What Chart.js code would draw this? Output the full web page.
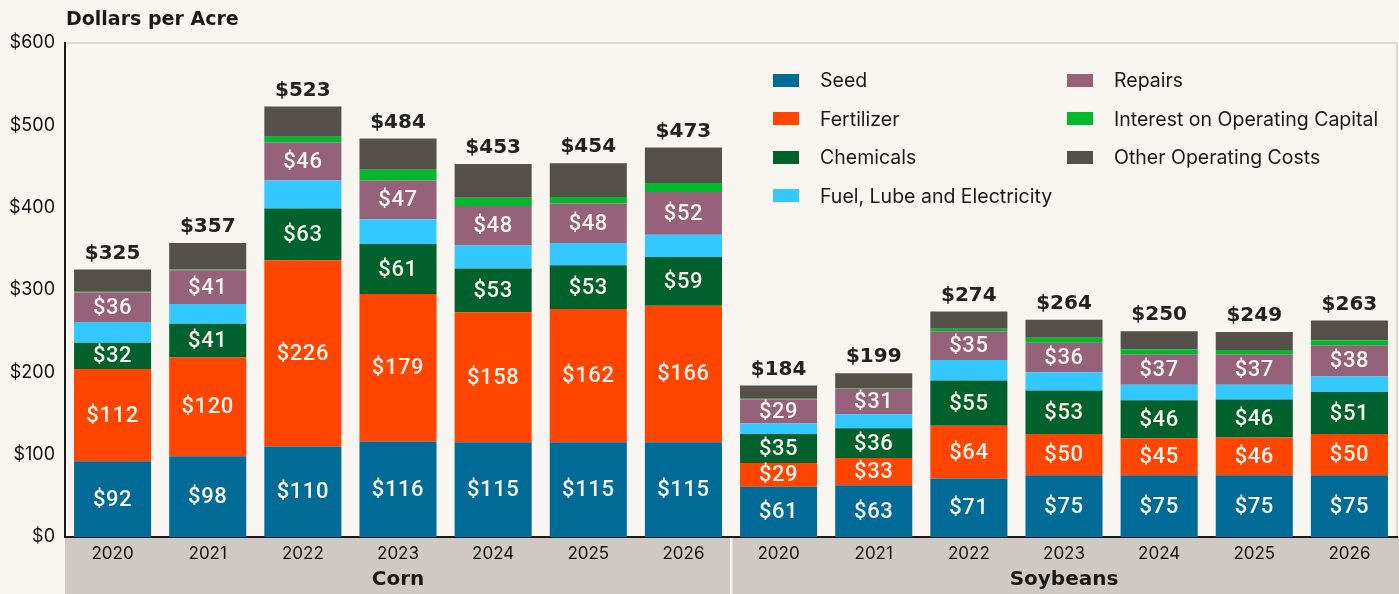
<!DOCTYPE html>
<html>
<head>
<meta charset="utf-8">
<script src="https://cdn.jsdelivr.net/npm/chart.js@4.4.1/dist/chart.umd.min.js"></script>
<style>
  html, body { margin: 0; padding: 0; background: #f9f5f0; }
  #wrap { position: relative; width: 1399px; height: 594px; }
  #legend {
    position: absolute; left: 773px; top: 61px;
    font-family: Inter, "Liberation Sans", sans-serif; font-size: 19.5px; color: #1a1a1a;
    display: grid; grid-auto-flow: column;
    grid-template-columns: 294px auto; grid-template-rows: repeat(4, 38.5px);
  }
  #legend div { display: flex; align-items: center; }
  #legend span.sw { width: 26px; height: 13px; margin-right: 21px; flex: none; }
</style>
</head>
<body>
<div id="wrap">
  <canvas id="costChart" width="1399" height="594"></canvas>
  <div id="legend"></div>
</div>
<script>
// Données (dollars par acre)
const years = ["2020", "2021", "2022", "2023", "2024", "2025", "2026"];
const groups = ["Corn", "Soybeans"];
const labels = years.concat(years);

const seed = [92, 98, 110, 116, 115, 115, 115, 61, 63, 71, 75, 75, 75, 75];
const fertilizer = [112, 120, 226, 179, 158, 162, 166, 29, 33, 64, 50, 45, 46, 50];
const chemicals = [32, 41, 63, 61, 53, 53, 59, 35, 36, 55, 53, 46, 46, 51];
const fuel = [25, 24, 34, 30, 28, 27, 27, 13, 17, 25, 22, 19, 18, 19];
const repairs = [36, 41, 46, 47, 48, 48, 52, 29, 31, 35, 36, 37, 37, 38];
const interest = [1, 1, 7, 13, 10, 8, 11, 1, 1, 3, 6, 6, 5, 6];
const other = [27, 32, 37, 38, 41, 41, 43, 16, 18, 21, 22, 22, 22, 24];
const totals = [325, 357, 523, 484, 453, 454, 473, 184, 199, 274, 264, 250, 249, 263];

const yTicks = [0, 100, 200, 300, 400, 500, 600];

const FONT = "Inter, 'Liberation Sans', sans-serif";
const WIDE = "'DejaVu Sans', sans-serif";

const series = [
  { label: "Seed", data: seed, color: "#006b96", showValue: true },
  { label: "Fertilizer", data: fertilizer, color: "#ff4500", showValue: true },
  { label: "Chemicals", data: chemicals, color: "#00612c", showValue: true },
  { label: "Fuel, Lube and Electricity", data: fuel, color: "#33c8ff", showValue: false },
  { label: "Repairs", data: repairs, color: "#966279", showValue: true },
  { label: "Interest on Operating Capital", data: interest, color: "#00b82e", showValue: false },
  { label: "Other Operating Costs", data: other, color: "#56504b", showValue: false },
];

// Légende HTML
const legendEl = document.getElementById("legend");
series.forEach((s) => {
  const d = document.createElement("div");
  d.innerHTML = `<span class="sw" style="background:${s.color}"></span>${s.label}`;
  legendEl.appendChild(d);
});

const decor = {
  id: "decor",
  beforeDraw(chart) {
    const { ctx, chartArea: a } = chart;
    const x = chart.scales.x;
    const mid = (x.getPixelForValue(6) + x.getPixelForValue(7)) / 2;
    ctx.save();
    // bande grise sous l'axe
    ctx.fillStyle = "#d0c8c2";
    ctx.fillRect(a.left, a.bottom, chart.width - a.left, chart.height - a.bottom);
    ctx.fillStyle = "#f4efe9";
    ctx.fillRect(mid - 1, a.bottom, 2.5, chart.height - a.bottom);
    // cadre haut / droite
    ctx.strokeStyle = "#d6cfc9";
    ctx.lineWidth = 1.5;
    ctx.beginPath();
    ctx.moveTo(a.left, a.top);
    ctx.lineTo(a.right, a.top);
    ctx.lineTo(a.right, a.bottom);
    ctx.stroke();
    // titre
    ctx.fillStyle = "#1a1a1a";
    ctx.textBaseline = "middle";
    ctx.textAlign = "left";
    ctx.font = "bold 19px " + WIDE;
    ctx.fillText("Dollars per Acre", 66, 20);
    // groupes
    ctx.font = "bold 20px " + WIDE;
    ctx.textAlign = "center";
    const c1 = (x.getPixelForValue(0) + x.getPixelForValue(6)) / 2;
    const c2 = (x.getPixelForValue(7) + x.getPixelForValue(13)) / 2;
    ctx.fillText(groups[0], c1, 580);
    ctx.fillText(groups[1], c2, 580);
    ctx.restore();
  },
  afterDatasetsDraw(chart) {
    const { ctx } = chart;
    ctx.save();
    ctx.textAlign = "center";
    ctx.textBaseline = "middle";
    ctx.fillStyle = "#f7f2ec";
    ctx.font = "500 22px Roboto, sans-serif";
    ctx.letterSpacing = "0.6px";
    chart.data.datasets.forEach((ds, di) => {
      if (!series[di].showValue) return;
      chart.getDatasetMeta(di).data.forEach((bar, i) => {
        ctx.fillText("$" + ds.data[i], bar.x, (bar.y + bar.base) / 2 + 1);
      });
    });
    // totaux
    ctx.letterSpacing = "0px";
    ctx.fillStyle = "#222";
    ctx.font = "bold 20px " + WIDE;
    const last = chart.getDatasetMeta(chart.data.datasets.length - 1);
    last.data.forEach((bar, i) => {
      ctx.fillText("$" + totals[i], bar.x, bar.y - 16);
    });
    ctx.restore();
  },
};

new Chart(document.getElementById("costChart"), {
  type: "bar",
  data: {
    labels: labels,
    datasets: series.map((s) => ({
      label: s.label,
      data: s.data,
      backgroundColor: s.color,
      borderWidth: 0,
      categoryPercentage: 1,
      barPercentage: 0.81,
    })),
  },
  options: {
    responsive: false,
    animation: false,
    layout: { padding: { top: 43, right: 2, left: 0, bottom: 0 } },
    plugins: { legend: { display: false }, tooltip: { enabled: false } },
    scales: {
      x: {
        stacked: true,
        grid: { display: false, drawTicks: false },
        border: { display: true, color: "#1a1a1a", width: 2 },
        ticks: { color: "#111", font: { family: FONT, size: 17 }, padding: 7, maxRotation: 0 },
        afterFit: (s) => { s.height = 57; },
      },
      y: {
        stacked: true,
        min: 0,
        max: 600,
        afterBuildTicks: (s) => { s.ticks = yTicks.map((v) => ({ value: v })); },
        grid: { display: false, drawTicks: false },
        border: { display: true, color: "#1a1a1a", width: 2 },
        ticks: { color: "#111", font: { family: FONT, size: 18 }, padding: 10, callback: (v) => "$" + v },
        afterFit: (s) => { s.width = 65; },
      },
    },
  },
  plugins: [decor],
});
</script>
</body>
</html>
